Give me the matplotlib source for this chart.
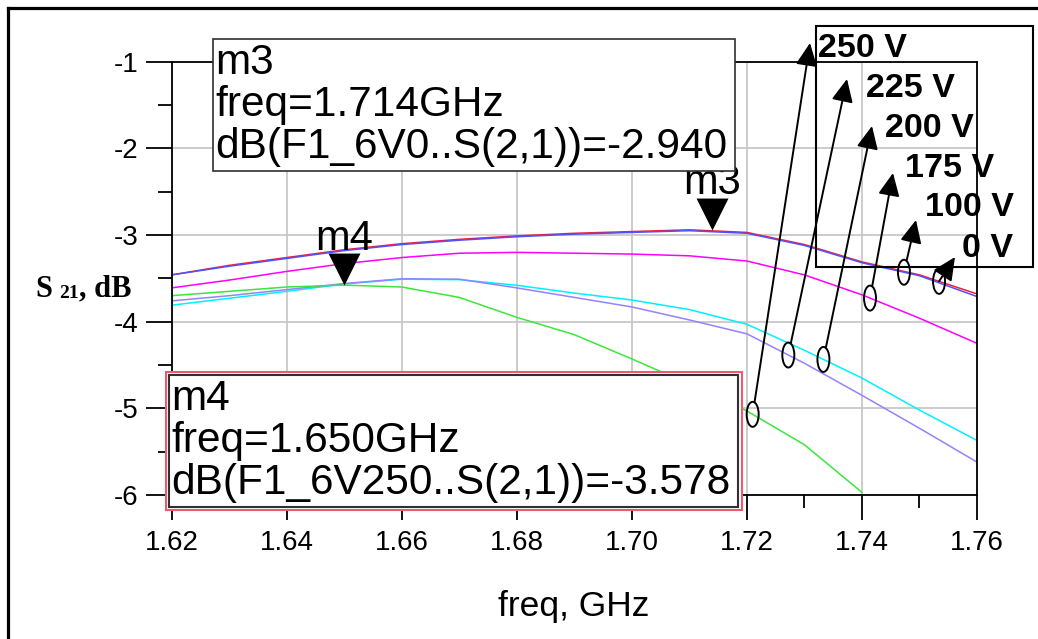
#!/usr/bin/env python3
import numpy as np
import matplotlib
matplotlib.use("Agg")
import matplotlib.pyplot as plt
from matplotlib.patches import Rectangle, Ellipse
from matplotlib.lines import Line2D
from matplotlib.path import Path

plt.rcParams['font.family'] = ['Liberation Sans', 'DejaVu Sans']
plt.rcParams['axes.unicode_minus'] = False

# S21 (dB) vs frequency (GHz)
freq = [1.62, 1.63, 1.64, 1.65, 1.66, 1.67, 1.68, 1.69, 1.70, 1.71, 1.72, 1.73, 1.74, 1.75, 1.76]
s21_0v = [-3.46, -3.35, -3.26, -3.17, -3.10, -3.05, -3.01, -2.98, -2.96, -2.94, -2.97, -3.11, -3.31, -3.46, -3.68]
s21_100v = [-3.46, -3.36, -3.27, -3.18, -3.11, -3.06, -3.02, -2.99, -2.97, -2.95, -2.98, -3.12, -3.32, -3.47, -3.71]
s21_175v = [-3.61, -3.52, -3.42, -3.33, -3.26, -3.21, -3.20, -3.21, -3.22, -3.24, -3.30, -3.46, -3.69, -3.96, -4.25]
s21_200v = [-3.81, -3.73, -3.65, -3.565, -3.51, -3.515, -3.58, -3.67, -3.75, -3.86, -4.03, -4.33, -4.65, -5.02, -5.37]
s21_225v = [-3.76, -3.70, -3.63, -3.56, -3.505, -3.51, -3.61, -3.72, -3.83, -3.98, -4.14, -4.48, -4.85, -5.23, -5.62]
freq_250 = freq[:13]
s21_250v = [-3.70, -3.65, -3.60, -3.578, -3.60, -3.72, -3.95, -4.15, -4.43, -4.72, -5.03, -5.42, -5.97]

# markers
m3_freq, m3_db = 1.714, -2.940
m4_freq, m4_db = 1.650, -3.578
m3_lines = ['m3', 'freq=1.714GHz', 'dB(F1_6V0..S(2,1))=-2.940']
m4_lines = ['m4', 'freq=1.650GHz', 'dB(F1_6V250..S(2,1))=-3.578']

# voltage callouts: label, frequency where the ellipse sits on the curve
callout_labels = ['250 V', '225 V', '200 V', '175 V', '100 V', '0 V']
callout_freqs = [1.7210, 1.7272, 1.7333, 1.7414, 1.7473, 1.7534]

W, H = 1038, 639


def fx(x):
    return x / W


def fy(y):
    return 1 - y / H


def main():
    fig = plt.figure(figsize=(W / 100, H / 100), dpi=100)
    ax = fig.add_axes([fx(171.7), fy(495), fx(977) - fx(171.7), fy(61.7) - fy(495)])

    lw = 1.1
    ax.plot(freq, s21_0v, color='#f01e3c', lw=lw)
    ax.plot(freq, s21_100v, color='#5050ff', lw=lw)
    ax.plot(freq, s21_175v, color='#ff00ff', lw=lw)
    ax.plot(freq, s21_200v, color='#00f0ff', lw=lw)
    ax.plot(freq, s21_225v, color='#9482ff', lw=lw)
    ax.plot(freq_250, s21_250v, color='#3ce63c', lw=lw)

    ax.set_xlim(1.62, 1.76)
    ax.set_ylim(-6, -1)
    xt = np.arange(1.62, 1.7601, 0.02)
    ax.set_xticks(xt)
    ax.set_xticklabels(['%.2f' % v for v in xt])
    ax.set_xticks(np.arange(1.63, 1.76, 0.02), minor=True)
    yt = [-1, -2, -3, -4, -5, -6]
    ax.set_yticks(yt)
    ax.set_yticklabels(['%d' % v for v in yt])
    ax.set_yticks(np.arange(-5.5, -1, 1.0), minor=True)
    ax.grid(True, which='major', color='#c8c8c8', lw=1.3)
    ax.set_axisbelow(True)
    ax.tick_params(axis='both', which='major', direction='out', width=1.3,
                   labelsize=20, color='black')
    ax.tick_params(axis='y', which='major', length=19, pad=5)
    ax.tick_params(axis='x', which='major', length=18, pad=7)
    ax.tick_params(axis='y', which='minor', length=10, width=1.3)
    ax.tick_params(axis='x', which='minor', length=9, width=1.3)
    for sp in ax.spines.values():
        sp.set_linewidth(1.3)

    # marker triangles with tip on the data point
    tri = Path([(-1, 2), (1, 2), (0, 0), (-1, 2)],
               [Path.MOVETO, Path.LINETO, Path.LINETO, Path.CLOSEPOLY])
    for f, d, name in [(m3_freq, m3_db, 'm3'), (m4_freq, m4_db, 'm4')]:
        ax.plot([f], [d], marker=tri, ms=46, mew=0, color='black', clip_on=False, zorder=6)
        ax.annotate(name, (f, d), xytext=(0, 25.5), textcoords='offset points',
                    ha='center', va='baseline', fontsize=30, zorder=6, annotation_clip=False)

    # ellipses + arrows to the voltage labels
    series = [(freq_250, s21_250v), (freq, s21_225v), (freq, s21_200v),
              (freq, s21_175v), (freq, s21_100v), (freq, s21_0v)]
    tips = [(810, 43), (847, 79), (872, 126), (893, 173), (916, 220), (955, 257)]
    shrinks = [9, 9, 9, 9, 9, 0]
    px_ghz = (977 - 171.7) / 0.14
    px_db = (495 - 61.7) / 5.0
    for f, (fs, ser), tip, sh in zip(callout_freqs, series, tips, shrinks):
        y = np.interp(f, fs, ser)
        ax.add_patch(Ellipse((f, y), 12 / px_ghz, 25 / px_db, fill=False, ec='black',
                             lw=1.4, clip_on=False, zorder=8))
        ax.annotate('', xy=(tip[0], H - tip[1]), xycoords='figure pixels',
                    xytext=(f, y), textcoords='data',
                    arrowprops=dict(arrowstyle='-|>,head_length=0.7,head_width=0.33',
                                    mutation_scale=20, color='black', lw=1.4,
                                    shrinkA=sh, shrinkB=0),
                    zorder=8, annotation_clip=False)

    label_pos = [(818, 56.7), (866, 97.3), (885, 137.3), (905, 176.7), (925, 216), (962, 256.7)]
    for lab, (x, y) in zip(callout_labels, label_pos):
        fig.text(fx(x), fy(y), lab, fontsize=24.5, fontweight='bold', va='baseline', zorder=10)
    fig.add_artist(Rectangle((fx(816), fy(267)), fx(1033) - fx(816), fy(26) - fy(267),
                             transform=fig.transFigure, fill=False, ec='black', lw=1.5, zorder=5))

    # m3 marker box
    fig.add_artist(Rectangle((fx(212.5), fy(170.7)), fx(734.6) - fx(212.5), fy(39) - fy(170.7),
                             transform=fig.transFigure, fc='white', ec='#303030', lw=1.2, zorder=5))
    for line, yb in zip(m3_lines, [74, 116, 158]):
        fig.text(fx(215), fy(yb), line, fontsize=30.5, va='baseline', zorder=10)

    # m4 marker box (selected, red outline)
    fig.add_artist(Rectangle((fx(166), fy(510)), fx(741.7) - fx(166), fy(371.7) - fy(510),
                             transform=fig.transFigure, fc='white', ec='#ee5a6e', lw=1.5, zorder=5))
    fig.add_artist(Rectangle((fx(169.3), fy(507.3)), fx(738.3) - fx(169.3), fy(374.7) - fy(507.3),
                             transform=fig.transFigure, fill=False, ec='#303030', lw=1.5, zorder=5))
    for line, yb in zip(m4_lines, [410, 452, 494]):
        fig.text(fx(171), fy(yb), line, fontsize=30.5, va='baseline', zorder=10)

    # axis labels
    fig.text(fx(574), fy(616), 'freq, GHz', fontsize=25.5, ha='center', va='baseline')
    serif = ['Liberation Serif', 'DejaVu Serif']
    fig.text(fx(35), fy(296.7), 'S', family=serif, fontweight='bold', fontsize=22, va='baseline')
    fig.text(fx(59), fy(298), '21', family=serif, fontweight='bold', fontsize=14, va='baseline')
    fig.text(fx(79), fy(296.7), ', dB', family=serif, fontweight='bold', fontsize=22, va='baseline')

    # outer frame (left and top edges)
    fig.add_artist(Line2D([fx(7.5), fx(7.5)], [0, fy(7.5)], color='black', lw=2.3))
    fig.add_artist(Line2D([fx(7.5), 1], [fy(7.5), fy(7.5)], color='black', lw=2.3))

    fig.savefig('out.png', dpi=100)
    plt.close(fig)


if __name__ == "__main__":
    main()
